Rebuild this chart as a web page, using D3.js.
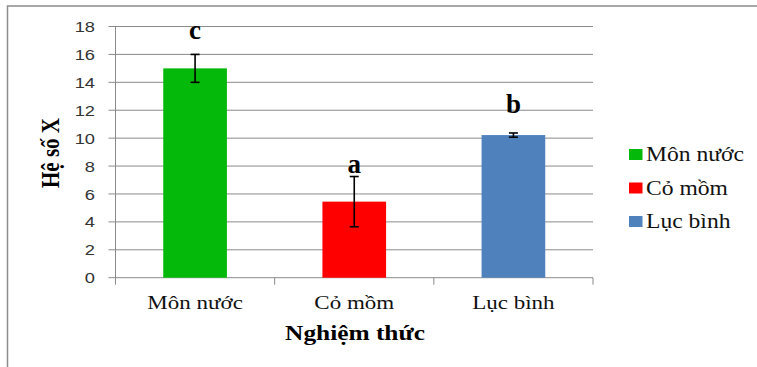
<!DOCTYPE html>
<html><head><meta charset="utf-8">
<script src="https://cdn.jsdelivr.net/npm/d3@7"></script>
<style>body{margin:0;background:#fff}</style>
</head><body>
<svg id="c" width="757" height="367"></svg>
<script>
const categories = ["Môn nước", "Cỏ mồm", "Lục bình"];
const values = [15.0, 5.45, 10.22];
const errors = [1.0, 1.8, 0.15];
const letters = ["c", "a", "b"];
const letterPos = [17.1, 7.5, 11.8];
const colors = ["#05B90A", "#FF0000", "#4F81BD"];
const yTicks = [0, 2, 4, 6, 8, 10, 12, 14, 16, 18];

(function () {
const SX = 1.18;
const SERIF = "'Liberation Serif', 'Times New Roman', serif";
const SANS = "'Liberation Sans', Arial, sans-serif";
const svg = d3.select("#c");
svg.append("rect").attr("x", 7.5).attr("y", 6).attr("width", 760).attr("height", 380)
  .attr("fill", "none").attr("stroke", "#8c8c8c").attr("stroke-width", 1.5);

const pLeft = 115.5, pRight = 593, pTop = 26.5, pBottom = 277.7;
const x = d3.scaleBand().domain(categories).range([pLeft, pRight]).paddingInner(0.6).paddingOuter(0.3);
const xb = d3.scaleBand().domain(categories).range([pLeft, pRight]);
const y = d3.scaleLinear().domain([0, 18]).range([pBottom, pTop]);

// gridlines
svg.append("g").selectAll("line").data(yTicks).join("line")
  .attr("x1", pLeft - 7).attr("x2", pRight).attr("y1", d => y(d)).attr("y2", d => y(d))
  .attr("stroke", "#8a8a8a").attr("stroke-width", 1);

// y axis line
svg.append("line").attr("x1", pLeft).attr("x2", pLeft).attr("y1", pTop).attr("y2", pBottom + 7)
  .attr("stroke", "#8a8a8a");
// category ticks
const tickX = categories.map(c => xb(c)).concat([pRight]);
svg.append("g").selectAll("line").data(tickX.slice(1)).join("line")
  .attr("x1", d => d).attr("x2", d => d).attr("y1", pBottom).attr("y2", pBottom + 7)
  .attr("stroke", "#8a8a8a");

// y tick labels
svg.append("g").selectAll("text").data(yTicks).join("text").style("font-family", SANS)
  .attr("transform", d => `translate(95,${y(d)}) scale(${SX},1)`)
  .attr("dy", "0.36em").attr("text-anchor", "end")
  .attr("font-size", 15.5).attr("fill", "#333")
  .text(d => d);

// bars
svg.append("g").selectAll("rect").data(categories).join("rect")
  .attr("x", d => x(d)).attr("width", x.bandwidth())
  .attr("y", (d, i) => y(values[i])).attr("height", (d, i) => pBottom - y(values[i]))
  .attr("fill", (d, i) => colors[i]);

// error bars
const eb = svg.append("g").attr("stroke", "#000").attr("stroke-width", 1.6);
categories.forEach((c, i) => {
  const cx = x(c) + x.bandwidth() / 2;
  const y1 = y(values[i] + errors[i]), y2 = y(values[i] - errors[i]);
  eb.append("line").attr("x1", cx).attr("x2", cx).attr("y1", y1).attr("y2", y2);
  eb.append("line").attr("x1", cx - 4.5).attr("x2", cx + 4.5).attr("y1", y1).attr("y2", y1);
  eb.append("line").attr("x1", cx - 4.5).attr("x2", cx + 4.5).attr("y1", y2).attr("y2", y2);
});

// letters
svg.append("g").selectAll("text").data(categories).join("text").style("font-family", SERIF)
  .attr("x", d => x(d) + x.bandwidth() / 2)
  .attr("y", (d, i) => y(letterPos[i]))
  .attr("text-anchor", "middle")
  .attr("font-weight", "bold").attr("font-size", 27).text((d, i) => letters[i]);

// category labels
svg.append("g").selectAll("text").data(categories).join("text").style("font-family", SERIF)
  .attr("transform", d => `translate(${x(d) + x.bandwidth() / 2},309) scale(${SX},1)`)
  .attr("text-anchor", "middle")
  .attr("font-size", 19.5).attr("fill", "#111").text(d => d);

// axis titles
svg.append("text").style("font-family", SERIF).attr("transform", `translate(355,340) scale(${SX},1)`)
  .attr("text-anchor", "middle").attr("font-weight", "bold")
  .attr("font-size", 21.5).text("Nghiệm thức");
svg.append("text").style("font-family", SERIF).attr("transform", `translate(59,153) scale(${SX},1) rotate(-90)`)
  .attr("text-anchor", "middle").attr("font-weight", "bold")
  .attr("font-size", 21).text("Hệ số X");

// legend
const lg = svg.append("g");
categories.forEach((c, i) => {
  const ly = 154.5 + i * 33.5;
  lg.append("rect").attr("x", 629).attr("y", ly - 5.5).attr("width", 13.5).attr("height", 11).attr("fill", colors[i]);
  lg.append("text").style("font-family", SERIF)
    .attr("transform", `translate(646,${ly + 6.5}) scale(${SX},1)`)
    .attr("font-size", 20).attr("fill", "#111").text(c);
});
})();
</script>
</body></html>
